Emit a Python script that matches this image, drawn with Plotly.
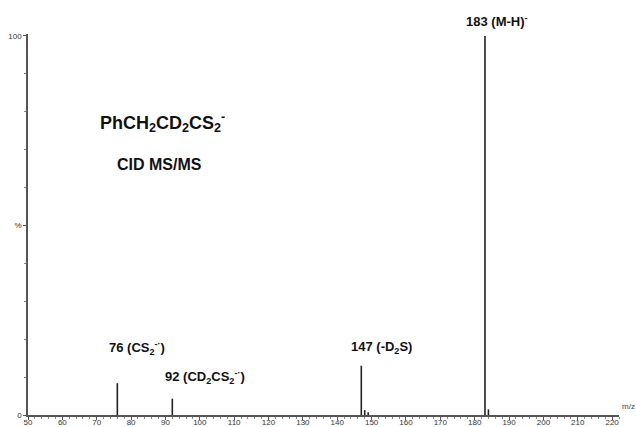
import plotly.graph_objects as go

# m/z values and relative intensities (%)
mz = [76, 92, 147, 148, 149, 183, 184]
intensity = [8.4, 4.3, 13.0, 1.3, 0.7, 100.0, 1.5]

x_ticks = [50, 60, 70, 80, 90, 100, 110, 120, 130, 140, 150, 160, 170, 180, 190, 200, 210, 220]
y_tickvals = [0, 50, 100]
y_ticktext = ["0", "%", "100"]

label_mz = [76, 92, 147]
label_y = [17.6, 10.0, 17.8]
label_dx = [20, 33, 20]
label_text = ["76 (CS<sub>2</sub><sup>-·</sup>)",
              "92 (CD<sub>2</sub>CS<sub>2</sub><sup>-·</sup>)", "147 (-D<sub>2</sub>S)"]

xs, ys = [], []
for m, v in zip(mz, intensity):
    xs += [m, m, None]
    ys += [0, v, None]

fig = go.Figure()
fig.add_trace(go.Scatter(x=xs, y=ys, mode="lines",
                         line=dict(color="#222222", width=1.6),
                         hoverinfo="skip", showlegend=False))

font_b = dict(family="Liberation Sans, Arial, sans-serif", color="#111111")
for m, yv, dx, t in zip(label_mz, label_y, label_dx, label_text):
    fig.add_annotation(x=m, y=yv, text="<b>" + t + "</b>", showarrow=False,
                       xshift=dx, font=dict(size=13, **font_b))

fig.add_annotation(x=183, y=1.06, yref="paper", text="<b>183 (M-H)<sup>-</sup></b>",
                   showarrow=False, xshift=12, font=dict(size=13, **font_b))

fig.add_annotation(xref="paper", yref="paper", x=0.118, y=0.806, xanchor="left",
                   text="<b>PhCH<sub>2</sub>CD<sub>2</sub>CS<sub>2</sub><sup>-</sup></b>",
                   showarrow=False, font=dict(size=18, **font_b))
fig.add_annotation(xref="paper", yref="paper", x=0.147, y=0.685, xanchor="left",
                   text="<b>CID MS/MS</b>", showarrow=False,
                   font=dict(size=16, **font_b))
fig.add_annotation(xref="paper", yref="paper", x=1.0, y=0.0, xanchor="left",
                   xshift=1, yshift=2, text="m/z", showarrow=False,
                   font=dict(size=8, family="Liberation Sans, Arial", color="#444444"))

fig.update_xaxes(range=[50, 222], tickvals=x_ticks, ticks="outside", ticklen=3,
                 ticklabelstandoff=-4,
                 tickcolor="#555555", showgrid=False, zeroline=False, automargin=False,
                 showline=True, linecolor="#555555", linewidth=1.5,
                 tickfont=dict(size=8, family="Liberation Sans, Arial", color="#333333"),
                 minor=dict(dtick=2, ticks="outside", ticklen=2, tickcolor="#888888"))
fig.update_yaxes(range=[0, 100.5], tickvals=y_tickvals, ticktext=y_ticktext,
                 ticks="outside", ticklen=3, tickcolor="#555555", automargin=False,
                 showgrid=False, zeroline=False, showline=True,
                 linecolor="#555555", linewidth=1.5,
                 tickfont=dict(size=8, family="Liberation Sans, Arial", color="#333333"),
                 minor=dict(dtick=10, ticks="outside", ticklen=2, tickcolor="#888888"))

fig.update_layout(width=636, height=427, margin=dict(l=28, r=17, t=34, b=12),
                  plot_bgcolor="white", paper_bgcolor="white")

fig.write_html("out.html", config={"displayModeBar": False},
               post_script="document.body.style.margin='0';document.body.style.overflow='hidden';")
